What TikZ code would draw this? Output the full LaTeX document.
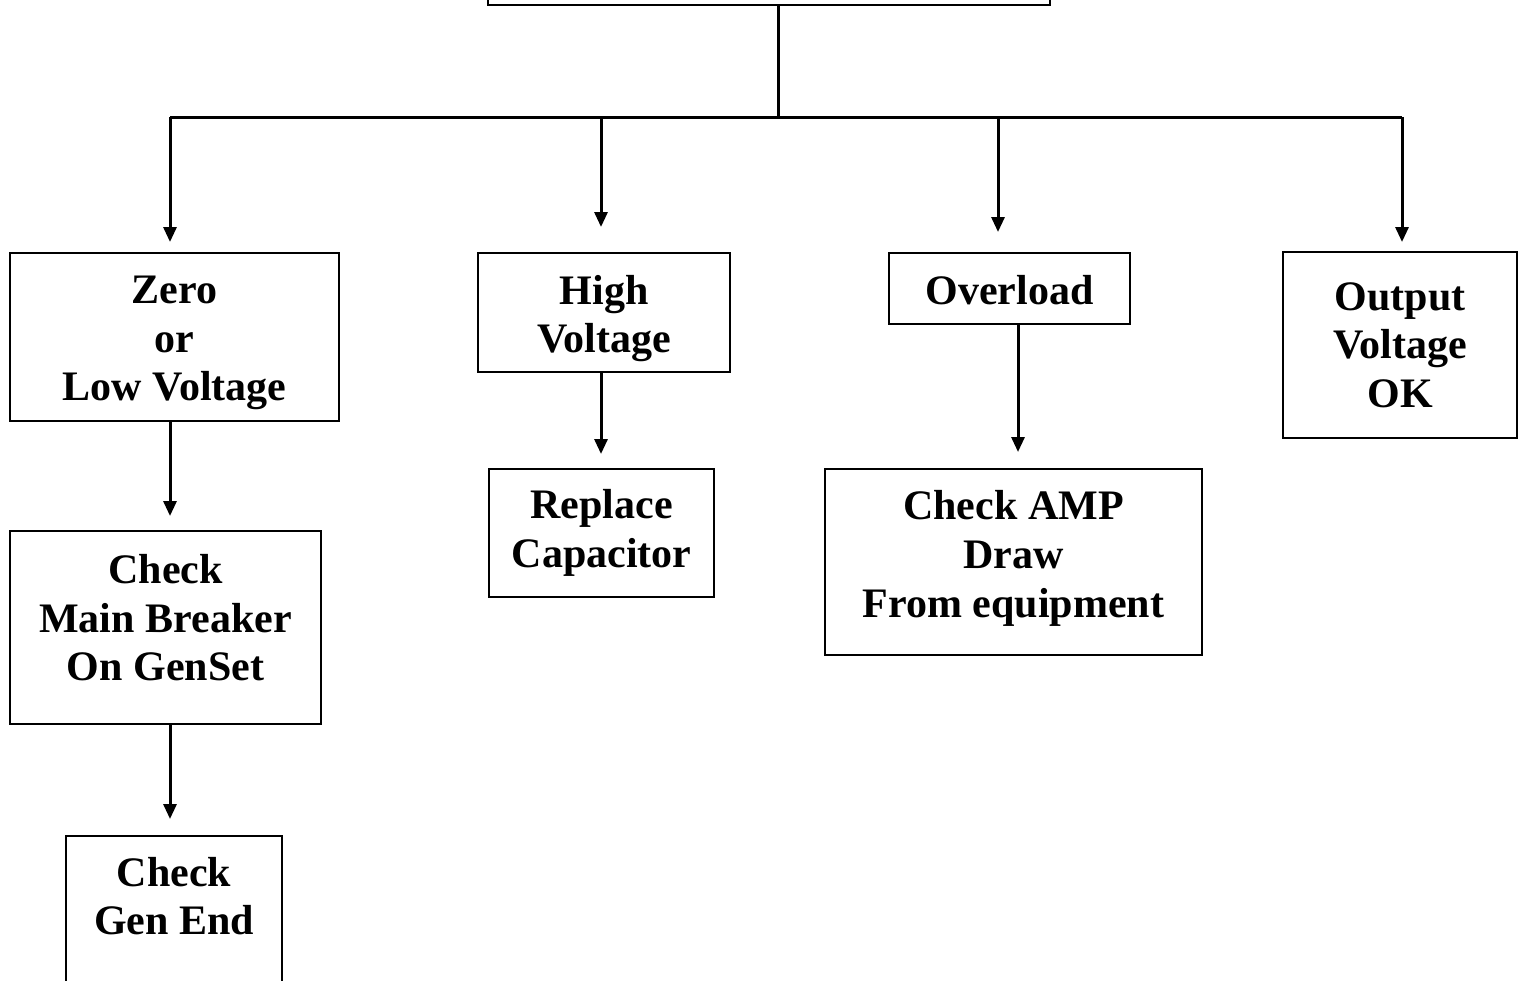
\documentclass[tikz,border=0pt]{standalone}
\usepackage{fontspec}
\setmainfont{Liberation Serif}
\usetikzlibrary{arrows.meta}

\tikzset{
  box/.style={draw, line width=1pt, align=center, inner sep=0pt,
    font=\fontsize{21}{24.3}\selectfont\bfseries},
  wire/.style={line width=1.5pt},
  arr/.style={wire, -{Triangle[length=7.5pt,width=6.5pt]}}
}

\begin{document}
\begin{tikzpicture}[x=0.5pt, y=-0.5pt]
  \useasboundingbox (0,0) rectangle (1518,980);
  \clip (0,0) rectangle (1518,980);

    % boxes
    \node[box, minimum width=281pt, minimum height=45pt] (top) at (769,-40) {};
    \node[box, minimum width=164.5pt, minimum height=84pt] (zero) at (174.5,337) {\rule{0pt}{20pt}Zero\\or\\Low Voltage};
    \node[box, minimum width=126pt, minimum height=59.5pt] (high) at (604,312.5) {\rule{0pt}{20.5pt}High\\Voltage};
    \node[box, minimum width=120.5pt, minimum height=35.5pt] (over) at (1009.5,288.5) {\rule{0pt}{16pt}Overload};
    \node[box, minimum width=117pt, minimum height=93pt] (ok) at (1400,345) {Output\\Voltage\\OK};
    \node[box, minimum width=155.5pt, minimum height=96.5pt] (brk) at (165.5,627.5) {Check\\Main Breaker\\On GenSet\rule[-10pt]{0pt}{0pt}};
    \node[box, minimum width=112.5pt, minimum height=64pt] (cap) at (601.5,533) {Replace\\Capacitor};
    \node[box, minimum width=188.5pt, minimum height=93pt] (amp) at (1013.5,562) {Check AMP\\Draw\\From equipment\rule[-8pt]{0pt}{0pt}};
    \node[box, minimum width=108pt, minimum height=80pt] (gen) at (174,916) {Check\\Gen End\rule[-20pt]{0pt}{0pt}};

    % bus
    \coordinate (bus) at (778,117);
    \coordinate (d1) at (170,117);
    \coordinate (d2) at (601,117);
    \coordinate (d3) at (998,117);
    \coordinate (d4) at (1402,117);
    \coordinate (c3) at (1018,0);

    \draw[wire] (top.south -| bus) -- (bus);
    \draw[wire] (d1) -- (d4);
    \draw[arr, shorten >=5pt] (d1) -- (zero.north -| d1);
    \draw[arr, shorten >=12.5pt] (d2) -- (high.north -| d2);
    \draw[arr, shorten >=10pt] (d3) -- (over.north -| d3);
    \draw[arr, shorten >=4.5pt] (d4) -- (ok.north -| d4);

    \draw[arr, shorten >=7pt] (zero.south -| d1) -- (brk.north -| d1);
    \draw[arr, shorten >=7pt] (high.south -| d2) -- (cap.north -| d2);
    \draw[arr, shorten >=8pt] (over.south -| c3) -- (amp.north -| c3);
    \draw[arr, shorten >=8pt] (brk.south -| d1) -- (gen.north -| d1);

\end{tikzpicture}
\end{document}
